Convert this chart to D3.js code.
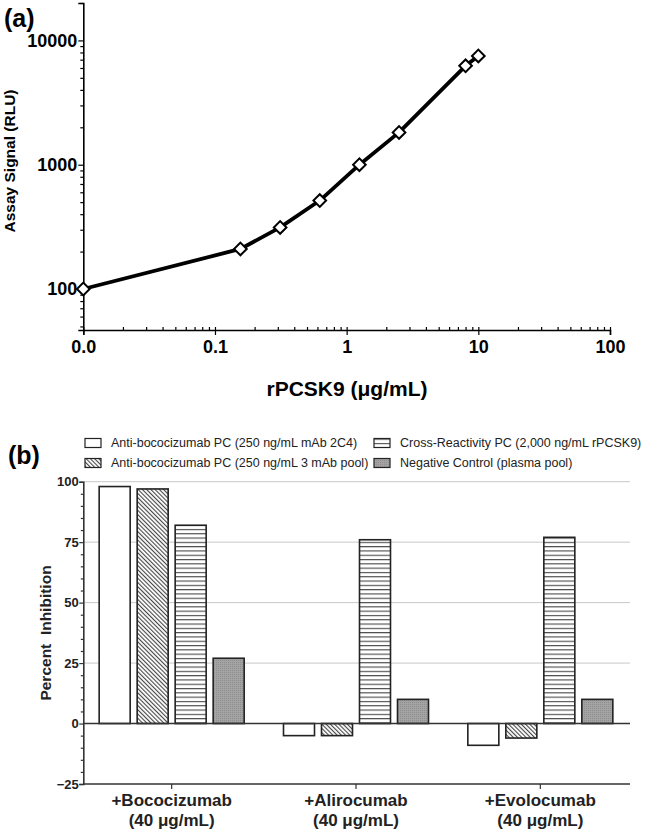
<!DOCTYPE html>
<html>
<head>
<meta charset="utf-8">
<script src="https://cdn.jsdelivr.net/npm/d3@7"></script>
<style>
  html, body { margin: 0; padding: 0; background: #fff; }
  svg { display: block; font-family: "Liberation Sans", Arial, sans-serif; }
</style>
</head>
<body>
<svg id="chart" width="646" height="832"></svg>
<script>
// ---------- Panel (a) data ----------
// First point is the zero-concentration blank, plotted at the axis origin (0.01, labelled "0.0")
const concentration = [0.01, 0.156, 0.3125, 0.625, 1.25, 2.5, 8, 10];
const assaySignal   = [100, 210, 313, 515, 1000, 1820, 6250, 7500];
const xTickValuesA  = [0.01, 0.1, 1, 10, 100];
const xTickLabelsA  = ["0.0", "0.1", "1", "10", "100"];
const yTickValuesA  = [100, 1000, 10000];
const yTickLabelsA  = ["100", "1000", "10000"];

// ---------- Panel (b) data ----------
const categories    = ["+Bococizumab", "+Alirocumab", "+Evolocumab"];
const categorySub   = ["(40 \u03bcg/mL)", "(40 \u03bcg/mL)", "(40 \u03bcg/mL)"];
const seriesNames   = [
  "Anti-bococizumab PC (250 ng/mL mAb 2C4)",
  "Anti-bococizumab PC (250 ng/mL 3 mAb pool)",
  "Cross-Reactivity PC (2,000 ng/mL rPCSK9)",
  "Negative Control (plasma pool)"
];
const mAb2C4        = [98, -5, -9];
const mAbPool       = [97, -5, -6];
const crossReact    = [82, 76, 77];
const negControl    = [27, 10, 10];
const yTickValuesB  = [-25, 0, 25, 50, 75, 100];

const svg = d3.select("#chart");
const FONT = "'Liberation Sans', Arial, sans-serif";

// patterns
const defs = svg.append("defs");
const diag = defs.append("pattern").attr("id", "diag")
  .attr("patternUnits", "userSpaceOnUse").attr("width", 3).attr("height", 10)
  .attr("patternTransform", "rotate(-45)");
diag.append("rect").attr("width", 3).attr("height", 10).attr("fill", "#fff");
diag.append("line").attr("x1", 0.6).attr("x2", 0.6).attr("y1", 0).attr("y2", 10)
  .attr("stroke", "#333").attr("stroke-width", 1);
const horiz = defs.append("pattern").attr("id", "horiz")
  .attr("patternUnits", "userSpaceOnUse").attr("width", 10).attr("height", 4.3);
horiz.append("rect").attr("width", 10).attr("height", 4.3).attr("fill", "#fff");
horiz.append("line").attr("x1", 0).attr("x2", 10).attr("y1", 0.6).attr("y2", 0.6)
  .attr("stroke", "#333").attr("stroke-width", 1);
const dots = defs.append("pattern").attr("id", "dots")
  .attr("patternUnits", "userSpaceOnUse").attr("width", 2).attr("height", 2);
dots.append("rect").attr("width", 2).attr("height", 2).attr("fill", "#a3a3a3");
dots.append("rect").attr("width", 1).attr("height", 1).attr("fill", "#8f8f8f");

// =============== Panel (a) ===============
const xA = d3.scaleLog().domain([0.01, 100]).range([83.3, 610]);
const yA = d3.scaleLog().domain([46.8, 20000]).range([330, 3]);

const gA = svg.append("g");

// minor ticks
const minorX = [];
for (let e = -2; e < 2; e++) for (let m = 2; m <= 9; m++) minorX.push(m * Math.pow(10, e));
const minorY = [];
for (let e = 1; e <= 4; e++) for (let m = 1; m <= 9; m++) {
  const v = m * Math.pow(10, e);
  if (v >= 47 && v <= 20000 && !yTickValuesA.includes(v)) minorY.push(v);
}

const xAxisA = gA.append("g").attr("transform", "translate(0,330)")
  .call(d3.axisBottom(xA).tickValues(xTickValuesA).tickSize(5)
    .tickFormat((d, i) => xTickLabelsA[i]));
xAxisA.selectAll(".tick line").attr("y1", -3);
gA.append("g").attr("transform", "translate(0,330)")
  .call(d3.axisBottom(xA).tickValues(minorX).tickSize(-3).tickFormat(""))
  .call(g => g.select(".domain").remove());
const yAxisA = gA.append("g").attr("transform", "translate(83.3,0)")
  .call(d3.axisLeft(yA).tickValues(yTickValuesA).tickSize(5)
    .tickFormat((d, i) => yTickLabelsA[i]));
gA.append("g").attr("transform", "translate(83.3,0)")
  .call(d3.axisLeft(yA).tickValues(minorY).tickSize(3).tickFormat(""))
  .call(g => g.select(".domain").remove());

gA.selectAll(".domain").attr("stroke", "#000").attr("stroke-width", 1.6);
gA.selectAll(".tick line").attr("stroke", "#000").attr("stroke-width", 1.2);
xAxisA.selectAll(".tick text").attr("font-family", FONT).attr("font-size", 18)
  .attr("font-weight", "bold").attr("fill", "#000").attr("dy", "0.71em").attr("y", 10);
yAxisA.selectAll(".tick text").attr("font-family", FONT).attr("font-size", 18)
  .attr("font-weight", "bold").attr("fill", "#000").attr("x", -6);

// line + markers
const lineA = d3.line().x((d, i) => xA(concentration[i])).y(d => yA(d));
gA.append("path").datum(assaySignal).attr("d", lineA)
  .attr("fill", "none").attr("stroke", "#000").attr("stroke-width", 3.8)
  .attr("stroke-linejoin", "round");
gA.selectAll(".pt").data(assaySignal).join("path").attr("class", "pt")
  .attr("d", d3.symbol().type(d3.symbolSquare).size(80))
  .attr("transform", (d, i) => `translate(${xA(concentration[i])},${yA(d)}) rotate(45)`)
  .attr("fill", "#fff").attr("stroke", "#000").attr("stroke-width", 2);

// titles
gA.append("text").attr("x", 4).attr("y", 27).text("(a)")
  .attr("font-family", FONT).attr("font-weight", "bold").attr("font-size", 25);
gA.append("text").attr("transform", "translate(15,161) rotate(-90)")
  .attr("text-anchor", "middle").text("Assay Signal (RLU)")
  .attr("font-family", FONT).attr("font-weight", "bold").attr("font-size", 15.5);
gA.append("text").attr("x", 347).attr("y", 396).attr("text-anchor", "middle")
  .text("rPCSK9 (\u03bcg/mL)")
  .attr("font-family", FONT).attr("font-weight", "bold").attr("font-size", 21);

// =============== Panel (b) ===============
const x0 = d3.scaleBand().domain(categories).range([79.5, 632.5]).paddingInner(0).paddingOuter(0);
const x1 = d3.scaleBand().domain(d3.range(4)).range([-72.5, 72.5]).paddingInner(7 / 38).paddingOuter(0);
const yB = d3.scaleLinear().domain([-25, 100]).range([784, 481.7]);
const plotLeft = 83.3, plotRight = 630;

const gB = svg.append("g");

// gridlines
gB.selectAll(".grid").data([25, 50, 75, 100]).join("line")
  .attr("x1", plotLeft).attr("x2", plotRight)
  .attr("y1", d => yB(d)).attr("y2", d => yB(d))
  .attr("stroke", "#c8c8c8").attr("stroke-width", 1);

// bars
const seriesValues = [mAb2C4, mAbPool, crossReact, negControl];
const fills = ["#fff", "url(#diag)", "url(#horiz)", "url(#dots)"];
seriesValues.forEach((vals, s) => {
  gB.selectAll(".bar" + s).data(vals).join("rect")
    .attr("x", (d, i) => x0(categories[i]) + x0.bandwidth() / 2 + x1(s))
    .attr("width", x1.bandwidth())
    .attr("y", d => yB(Math.max(0, d)))
    .attr("height", d => Math.abs(yB(d) - yB(0)))
    .attr("fill", fills[s]).attr("stroke", "#222").attr("stroke-width", 1.6);
});

// zero line
gB.append("line").attr("x1", plotLeft).attr("x2", plotRight)
  .attr("y1", yB(0)).attr("y2", yB(0)).attr("stroke", "#333").attr("stroke-width", 1.6);

// y axis
const yAxisB = gB.append("g").attr("transform", `translate(${plotLeft},0)`)
  .call(d3.axisLeft(yB).tickValues(yTickValuesB).tickSize(4).tickFormat(d3.format("d")));
gB.append("g").attr("transform", `translate(${plotLeft},0)`)
  .call(d3.axisLeft(yB).tickValues(d3.range(-25, 101, 5).filter(v => v % 25 !== 0)).tickSize(2.5).tickFormat(""))
  .call(g => g.select(".domain").remove());
yAxisB.selectAll(".tick text").attr("font-family", FONT).attr("font-size", 13)
  .attr("font-weight", "bold").attr("fill", "#222").attr("x", -4.5);

// x axis (bottom at -25)
const xAxisB = gB.append("g").attr("transform", `translate(0,${yB(-25)})`)
  .call(d3.axisBottom(x0).tickSize(5).tickFormat(""));
xAxisB.select(".domain").attr("d", `M${plotLeft},0H${plotRight}`);
gB.selectAll(".domain").attr("stroke", "#333").attr("stroke-width", 1.6);
gB.selectAll(".tick line").attr("stroke", "#333").attr("stroke-width", 1.2);

// category labels
categories.forEach((c, i) => {
  const cx = x0(c) + x0.bandwidth() / 2;
  gB.append("text").attr("x", cx).attr("y", 806).attr("text-anchor", "middle").text(c)
    .attr("font-family", FONT).attr("font-weight", "bold").attr("font-size", 17).attr("fill", "#222");
  gB.append("text").attr("x", cx).attr("y", 826).attr("text-anchor", "middle").text(categorySub[i])
    .attr("font-family", FONT).attr("font-weight", "bold").attr("font-size", 17).attr("fill", "#222");
});

// y title
gB.append("text").attr("transform", "translate(51,633) rotate(-90)")
  .attr("text-anchor", "middle").style("white-space", "pre").text("Percent  Inhibition")
  .attr("font-family", FONT).attr("font-weight", "bold").attr("font-size", 15.5).attr("fill", "#222");

// panel label
gB.append("text").attr("x", 8).attr("y", 464).text("(b)")
  .attr("font-family", FONT).attr("font-weight", "bold").attr("font-size", 25);

// legend
const legendPos = [[85, 443], [85, 463], [374, 443], [374, 463]];
seriesNames.forEach((name, s) => {
  const [lx, ly] = legendPos[s];
  gB.append("rect").attr("x", lx).attr("y", ly - 4.5).attr("width", 16).attr("height", 9)
    .attr("fill", fills[s]).attr("stroke", "#222").attr("stroke-width", 1.2);
  gB.append("text").attr("x", lx + 26).attr("y", ly).attr("dy", "0.35em").text(name)
    .attr("font-family", FONT).attr("font-size", 12.5).attr("fill", "#222");
});
</script>
</body>
</html>
